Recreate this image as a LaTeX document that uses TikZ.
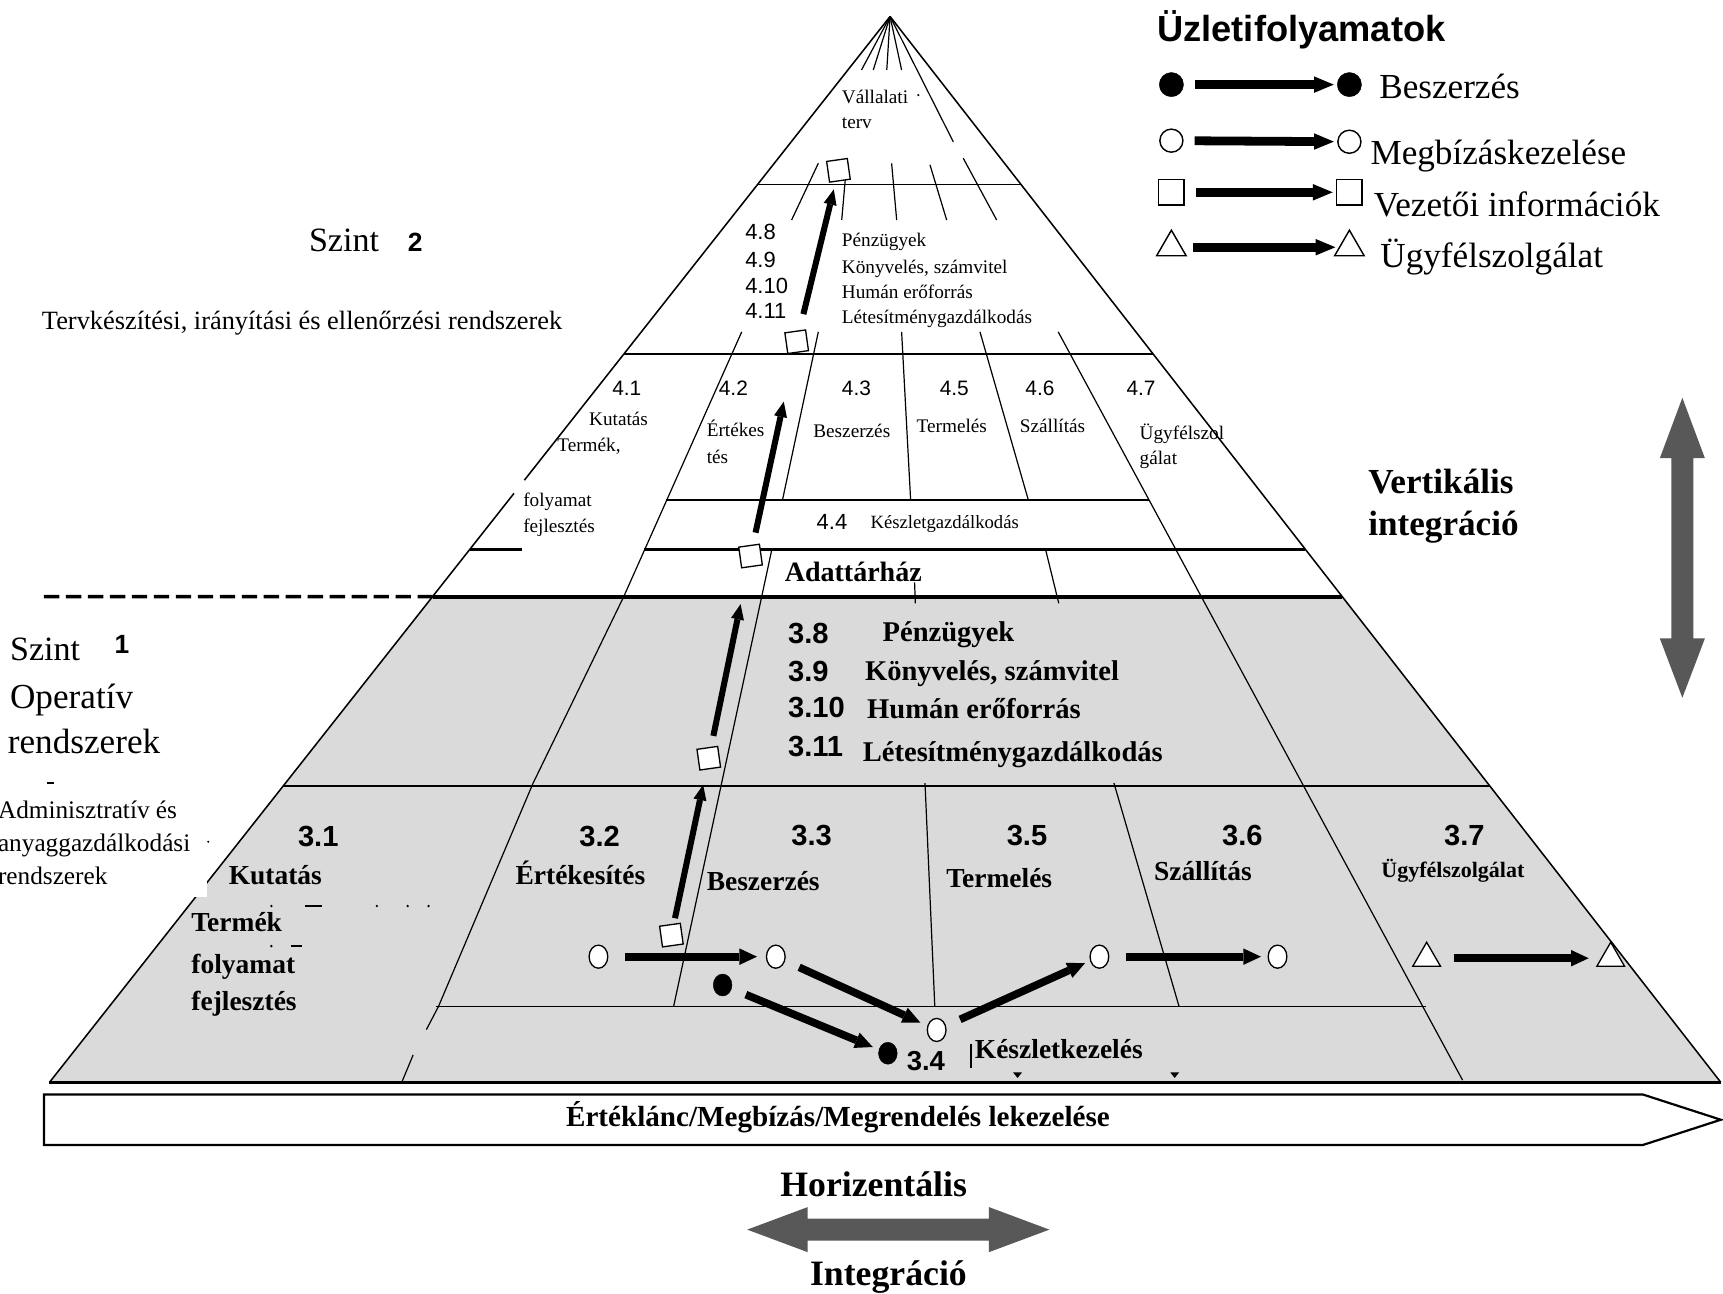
\documentclass[tikz,border=0pt]{standalone}
\usepackage{fontspec}
\setmainfont{Liberation Serif}
\setsansfont{Liberation Sans}
\usetikzlibrary{arrows.meta,shapes.geometric,calc}
\definecolor{layergray}{RGB}{218,218,218}
\definecolor{arrowgray}{RGB}{88,88,88}
\newcommand{\fsz}[1]{\fontsize{#1}{#1}\selectfont}

\begin{document}
\begin{tikzpicture}[x=1pt,y=-1pt,
  txt/.style={inner sep=0pt, anchor=base west},
  cellsm/.style={txt, font={\fsz{17.5}}},
  cellbf/.style={txt, font={\fsz{25}\bfseries}},
  numsm/.style={txt, font={\fsz{19}\sffamily}},
  numbf/.style={txt, font={\fsz{26.5}\sffamily\bfseries}},
  keytext/.style={txt, font={\fsz{32}}},
  sidetext/.style={txt, font={\fsz{31}}},
  admintext/.style={txt, font={\fsz{23}}},
  bigbf/.style={txt, font={\fsz{32}\bfseries}},
  edgeline/.style={line width=1.4pt},
  divline/.style={line width=1.1pt},
  levelline/.style={line width=1.5pt},
  heavyline/.style={line width=3.2pt},
  flow/.style={line width=7pt,-{Triangle[length=16pt,width=15pt,line width=0pt]}},
  rise/.style={line width=5.5pt,-{Triangle[length=14pt,width=12pt,line width=0pt]}},
  keyflow/.style={line width=8pt,-{Triangle[length=18pt,width=15pt,line width=0pt]}},
  opendot/.style={ellipse, draw, fill=white, line width=1.2pt, minimum width=17pt, minimum height=21pt, inner sep=0pt},
  fulldot/.style={ellipse, draw, fill=black, minimum width=17pt, minimum height=20pt, inner sep=0pt},
  infobox/.style={rectangle, draw, fill=white, line width=1.2pt, minimum size=19pt, inner sep=0pt, rotate=8},
  tri/.style={regular polygon, regular polygon sides=3, draw, fill=white, line width=1.2pt, minimum size=29pt, inner sep=0pt},
  keyfull/.style={circle, draw, fill=black, minimum size=22pt, inner sep=0pt},
  keyopen/.style={circle, draw, fill=white, line width=1.3pt, minimum size=21pt, inner sep=0pt},
  keysq/.style={rectangle, draw, fill=white, line width=1.3pt, minimum size=23pt, inner sep=0pt},
  keytri/.style={regular polygon, regular polygon sides=3, draw, fill=white, line width=1.3pt, minimum size=31pt, inner sep=0pt},
]

\useasboundingbox (0,0) rectangle (1568,1177);
\fill[white] (0,0) rectangle (1568,1177);

% pyramid corners
\coordinate (apex) at (810,15);
\coordinate (bl) at (45,985);
\coordinate (br) at (1566,985);

% operative level (grey)
\fill[layergray] ($(apex)!0.54433!(bl)$) -- ($(apex)!0.54433!(br)$) -- (br) -- (bl) -- cycle;

% outline
\draw[edgeline] (apex) -- ($(apex)!0.43505!(bl)$);
\draw[edgeline] ($(apex)!0.44742!(bl)$) -- (bl);
\draw[edgeline] (apex) -- (br);
\draw[line width=2.5pt] (bl) -- (br);

% level separators
\draw[levelline] ($(apex)!0.15773!(bl)$) -- ($(apex)!0.15773!(br)$);
\draw[levelline] ($(apex)!0.31649!(bl)$) -- ($(apex)!0.31649!(br)$);
\draw[levelline] ($(apex)!0.72165!(bl)$) -- ($(apex)!0.72165!(br)$);
\draw[levelline] (606,455) -- (1046,455);
\draw[heavyline] (586,500) -- (1188,500);
\draw[heavyline] (428,500) -- (475,500);
\draw[line width=3.6pt] ($(apex)!0.54433!(bl)$) -- ($(apex)!0.54433!(br)$);
\draw[line width=3.2pt, dash pattern=on 14pt off 6pt] (40,543) -- ($(apex)!0.54433!(bl)$);
\draw[levelline] (396.5,916) -- (1298,916);

% fan below the apex
\draw[divline] (apex) -- (784,63.7);
\draw[divline] (apex) -- (794.7,63.7);
\draw[divline] (apex) -- (807,63.7);
\draw[divline] (apex) -- (820.5,63.7);
\draw[divline] (apex) -- (867.5,129);

% dividers crossing the strategic level
\draw[divline] (744.7,148.6) -- (720.4,200.2);
\draw[divline] (770.5,148.6) -- (766,200.2);
\draw[divline] (811.4,148.6) -- (816,200.2);
\draw[divline] (846.3,150) -- (861.5,200.2);
\draw[divline] (876.6,144) -- (907,200.2);

% dividers of the tactical and operative levels
\draw[divline] (675,302) -- (567.6,543) -- (485,713) -- (399,916) -- (388,937);
\draw[divline] (376,960) -- (366,984);
\draw[divline] (744.7,302) -- (712.1,455);
\draw[divline] (702.4,500) -- (613,916);
\draw[divline] (820.5,302) -- (828.7,455);
\draw[divline] (832.3,530) -- (833,549);
\draw[divline] (841.8,712.6) -- (850.7,916);
\draw[divline] (891.8,302) -- (935.8,455);
\draw[divline] (951.5,500) -- (963.5,549);
\draw[divline] (1013.7,712.6) -- (1073,916);
\draw[divline] (963,302) -- (1331,983);
\draw[divline] (883.6,950) -- (883.6,972);

% small marks
\fill (922,976) -- (930,976) -- (926,981) -- cycle;
\fill (1065,976) -- (1073,976) -- (1069,981) -- cycle;
\fill (247,824.5) circle (1.2pt);
\draw[line width=1.5pt] (278,824.5) -- (293,824.5);
\fill (343,824.5) circle (1.2pt);
\fill (371,824.5) circle (1.2pt);
\fill (390,824.5) circle (1.2pt);
\fill (247,861) circle (1.2pt);
\draw[line width=1.5pt] (265,861) -- (275,861);
\fill (835.7,86.5) circle (1.1pt);

% white box behind the side caption
\fill[white] (0,722) rectangle (188,816);
\draw[line width=1.3pt] (43,712.6) -- (49,712.6);
\fill (189.5,766) circle (1.1pt);

% legend
\node[txt, font={\fsz{33}\sffamily\bfseries}] (ktitle) at (1053,38) {Üzletifolyamatok};
\node[keyfull] (k1a) at (1066,77) {};
\node[keyfull] (k1b) at (1228,77) {};
\node[keyopen] (k2a) at (1066,128) {};
\node[keyopen] (k2b) at (1228,129) {};
\node[keysq] (k3a) at (1066,175) {};
\node[keysq] (k3b) at (1228,175) {};
\node[keytri] (k4a) at (1066,225) {};
\node[keytri] (k4b) at (1228,225) {};
\draw[keyflow, shorten <=10pt, shorten >=3pt] (k1a) -- (k1b);
\draw[keyflow, shorten <=10pt, shorten >=3pt] (k2a) -- (k2b);
\draw[keyflow, shorten <=10pt, shorten >=3pt] (k3a) -- (k3b);
\draw[keyflow, shorten <=10pt, shorten >=3pt] (k4a) -- (k4b);
\node[keytext] (k1t) at (1255,90) {Beszerzés};
\node[keytext] (k2t) at (1247,150) {Megbízáskezelése};
\node[keytext] (k3t) at (1250,197) {Vezetői információk};
\node[keytext] (k4t) at (1256,243) {Ügyfélszolgálat};

% side captions
\node[sidetext] (s2a) at (281,229) {Szint};
\node[txt, font={\fsz{24}\sffamily\bfseries}] (s2b) at (371,229) {2};
\node[txt, font={\fsz{24}}] (s2c) at (38,300) {Tervkészítési, irányítási és ellenőrzési rendszerek};
\node[sidetext] (s1a) at (9,601) {Szint};
\node[txt, font={\fsz{24}\sffamily\bfseries}] (s1b) at (104,595) {1};
\node[txt, font={\fsz{32}}] (s1c) at (9,644.5) {Operatív};
\node[txt, font={\fsz{32}}] (s1d) at (7,685.5) {rendszerek};
\node[admintext] (s1e) at (-2,745) {Adminisztratív és};
\node[admintext] (s1f) at (-2,775) {anyaggazdálkodási};
\node[admintext] (s1g) at (-2,805) {rendszerek};

% strategic level
\node[cellsm] (v1) at (766,94) {Vállalati};
\node[cellsm] (v2) at (766,117) {terv};
\node[txt, font={\fsz{20}\sffamily}] (n48) at (678,218) {4.8};
\node[txt, font={\fsz{20}\sffamily}] (n49) at (678,243) {4.9};
\node[txt, font={\fsz{20}\sffamily}] (n410) at (678,267) {4.10};
\node[txt, font={\fsz{20}\sffamily}] (n411) at (678,290) {4.11};
\node[cellsm] (c48) at (766,224) {Pénzügyek};
\node[cellsm] (c49) at (766,249) {Könyvelés, számvitel};
\node[cellsm] (c410) at (766,272) {Humán erőforrás};
\node[cellsm] (c411) at (766,294) {Létesítménygazdálkodás};

% tactical level
\node[numsm] (n41) at (557,359.5) {4.1};
\node[numsm] (n42) at (654,359.5) {4.2};
\node[numsm] (n43) at (766,359.5) {4.3};
\node[numsm] (n45) at (855,359.5) {4.5};
\node[numsm] (n46) at (933,359.5) {4.6};
\node[numsm] (n47) at (1025,359.5) {4.7};
\node[cellsm] (c41a) at (536,387) {Kutatás};
\node[cellsm] (c41b) at (507,411) {Termék,};
\node[cellsm] (c41c) at (476,461) {folyamat};
\node[cellsm] (c41d) at (476,485) {fejlesztés};
\node[cellsm] (c42a) at (643,397) {Értékes};
\node[cellsm] (c42b) at (643,422) {tés};
\node[cellsm] (c43) at (740,398) {Beszerzés};
\node[cellsm] (c45) at (834,394) {Termelés};
\node[cellsm] (c46) at (928,394) {Szállítás};
\node[cellsm] (c47a) at (1037,400) {Ügyfélszol};
\node[cellsm] (c47b) at (1037,423) {gálat};
\node[txt, font={\fsz{20}\sffamily}] (n44) at (743,482) {4.4};
\node[txt, font={\fsz{17}}] (c44) at (792,481) {Készletgazdálkodás};
\node[txt, font={\fsz{25.5}\bfseries}] (dw) at (714,529) {Adattárház};

% operative level
\node[numbf] (n38) at (717,586) {3.8};
\node[numbf] (n39) at (717,620) {3.9};
\node[numbf] (n310) at (717,653) {3.10};
\node[numbf] (n311) at (717,688) {3.11};
\node[txt, font={\fsz{26}\bfseries}] (c38) at (803,584) {Pénzügyek};
\node[txt, font={\fsz{26}\bfseries}] (c39) at (787,619) {Könyvelés, számvitel};
\node[txt, font={\fsz{26}\bfseries}] (c310) at (789,654) {Humán erőforrás};
\node[txt, font={\fsz{26}\bfseries}] (c311) at (785,693) {Létesítménygazdálkodás};

\node[numbf] (n31) at (271,770) {3.1};
\node[numbf] (n32) at (527,770) {3.2};
\node[numbf] (n33) at (720,769) {3.3};
\node[numbf] (n35) at (916,769) {3.5};
\node[numbf] (n36) at (1112,769) {3.6};
\node[numbf] (n37) at (1314,769) {3.7};
\node[cellbf] (c31a) at (208,805) {Kutatás};
\node[cellbf] (c31b) at (174,848) {Termék};
\node[cellbf] (c31c) at (174,886) {folyamat};
\node[cellbf] (c31d) at (174,920) {fejlesztés};
\node[cellbf] (c32) at (469,805) {Értékesítés};
\node[cellbf] (c33) at (643,810) {Beszerzés};
\node[cellbf] (c35) at (861,808) {Termelés};
\node[cellbf] (c36) at (1050,801) {Szállítás};
\node[txt, font={\fsz{20}\bfseries}] (c37) at (1257,799) {Ügyfélszolgálat};
\node[txt, font={\fsz{25}\sffamily\bfseries}] (n34) at (825,974) {3.4};
\node[cellbf] (c34) at (887,963) {Készletkezelés};

% information flow (squares)
\node[infobox] (q1) at (611,851) {};
\node[infobox] (q2) at (645,690) {};
\node[infobox] (q3) at (683,506) {};
\node[infobox] (q4) at (725,311) {};
\node[infobox] (q5) at (763,155) {};
\draw[rise, shorten <=5pt, shorten >=14pt] (q1) -- (q2);
\draw[rise, shorten <=10pt, shorten >=34pt] (q2) -- (q3);
\draw[rise, shorten <=11pt, shorten >=45pt] (q3) -- (q4);
\draw[rise, shorten <=15pt, shorten >=7pt] (q4) -- (q5);

% order handling, purchasing and customer service flows
\node[opendot] (o1) at (544.6,870.6) {};
\node[opendot] (o2) at (706,870.6) {};
\node[opendot] (o3) at (852.4,937.3) {};
\node[opendot] (o4) at (1000.5,870.6) {};
\node[opendot] (o5) at (1162.6,870.6) {};
\node[fulldot] (f1) at (657.6,896.4) {};
\node[fulldot] (f2) at (808,958.5) {};
\node[tri] (t1) at (1298.3,872) {};
\node[tri] (t2) at (1465.8,872) {};
\draw[flow, shorten <=15pt, shorten >=8pt] (o1) -- (o2);
\draw[flow, shorten <=14pt, shorten >=6pt] (f1) -- (f2);
\draw[flow, shorten <=14pt, shorten >=7pt] (o2) -- (o3);
\draw[flow, shorten <=14pt, shorten >=5pt] (o3) -- (o4);
\draw[flow, shorten <=15pt, shorten >=6pt] (o4) -- (o5);
\draw[flow, shorten <=16pt, shorten >=11pt] (t1) -- (t2);

% value chain bar
\draw[line width=2pt, fill=white] (40,996) -- (1495,996) -- (1566,1019) -- (1495,1042) -- (40,1042) -- cycle;
\node[txt, font={\fsz{26.5}\bfseries}] (chain) at (515,1025) {Értéklánc/Megbízás/Megrendelés lekezelése};

% integration arrows
\fill[arrowgray] (1531,362) -- (1551.5,417) -- (1541,417) -- (1541,581) -- (1551.5,581) -- (1531,635)
  -- (1510.5,581) -- (1521,581) -- (1521,417) -- (1510.5,417) -- cycle;
\fill[arrowgray] (680,1119) -- (735,1098.5) -- (735,1109) -- (900,1109) -- (900,1098.5) -- (955,1119)
  -- (900,1139.5) -- (900,1129) -- (735,1129) -- (735,1139.5) -- cycle;
\node[bigbf] (vert1) at (1245,449) {Vertikális};
\node[bigbf] (vert2) at (1245,487) {integráció};
\node[txt, font={\fsz{32.5}\bfseries}] (hor1) at (710,1089) {Horizentális};
\node[txt, font={\fsz{32.5}\bfseries}] (hor2) at (737,1170) {Integráció};

\end{tikzpicture}
\end{document}
